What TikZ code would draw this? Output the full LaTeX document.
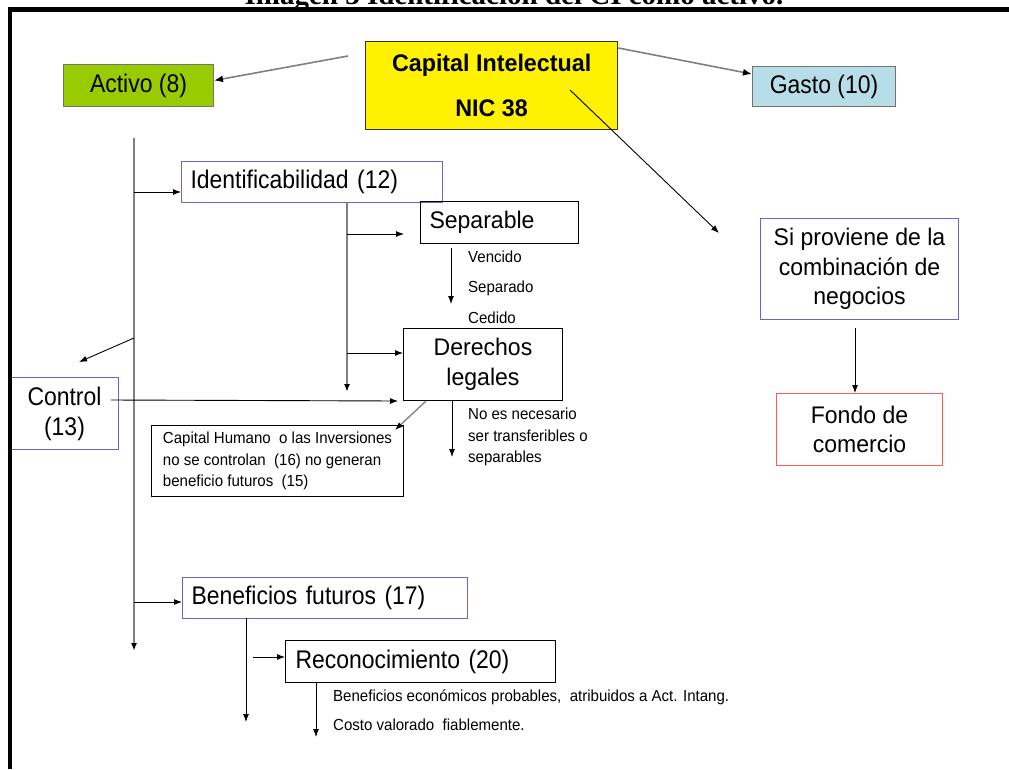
\documentclass[tikz,border=0pt]{standalone}
\usepackage{fontspec}
\setmainfont{Liberation Sans}
\newfontfamily\titlefont{Liberation Serif}
\newfontfamily\condfont[FakeStretch=0.9]{Liberation Sans}
\newfontfamily\plainfont[FakeStretch=0.96]{Liberation Sans}
\newfontfamily\notefont[FakeStretch=0.94]{Liberation Sans}
\newfontfamily\headfont[FakeStretch=0.97]{Liberation Sans}
\usetikzlibrary{arrows.meta,calc}

\newcommand\bigcond{\condfont\fontsize{25.5}{30}\selectfont}
\newcommand\bigplain{\plainfont\fontsize{24}{29.5}\selectfont}
\newcommand\smallnote{\notefont\fontsize{16}{21.5}\selectfont}

\definecolor{boxblue}{RGB}{102,102,204}
\definecolor{boxred}{RGB}{255,90,90}
\definecolor{activogreen}{RGB}{153,204,0}
\definecolor{gastoblue}{RGB}{183,222,232}
\definecolor{linegray}{RGB}{128,128,128}

\tikzset{
  box/.style={draw, line width=1pt, inner sep=0pt, anchor=north west},
  leftbox/.style={box, align=left, inner xsep=9pt},
  arr/.style={draw=black, line width=0.9pt, -{Latex[length=8pt,width=6pt]}},
  garr/.style={draw=linegray, line width=1.6pt, -{Latex[length=9pt,width=7pt,color=black]}},
  trunk/.style={draw=linegray, line width=1.8pt, -{Latex[length=8pt,width=6pt,color=black]}},
  note/.style={font=\smallnote, inner sep=0pt, anchor=base west},
}

\begin{document}
\begin{tikzpicture}[x=1pt,y=-1pt]
\useasboundingbox[fill=white] (0,0) rectangle (1009,769);

% caption, mostly cut by the page top
\node[font=\titlefont\bfseries\fontsize{29}{34}\selectfont, anchor=base, inner sep=0pt] (title) at (514,4.5)
  {Imagen 3 Identificación del CI como activo.};

% top row
\node[box, fill=yellow, draw=black!80, line width=1.3pt, minimum width=252pt, minimum height=88pt,
      align=center, font=\headfont\bfseries\fontsize{24}{45}\selectfont] (ci) at (365,41)
  {Capital Intelectual\\NIC 38};
\node[box, fill=activogreen, draw=black!55, minimum width=150pt, minimum height=42pt, font=\bigcond] (activo) at (63,64) {Activo (8)};
\node[box, fill=gastoblue, draw=black!55, minimum width=143pt, minimum height=40pt, font=\bigcond] (gasto) at (752,66) {Gasto (10)};

% right column
\node[box, draw=boxblue, minimum width=198pt, minimum height=101pt, align=center, font=\bigplain] (sip) at (760,218)
  {Si proviene de la\\combinación de\\negocios};
\node[box, draw=boxred, minimum width=166pt, minimum height=72pt, align=center, font=\bigplain] (fondo) at (776,393)
  {Fondo de\\comercio};

% left branch boxes
\node[leftbox, draw=boxblue, text width=243pt, minimum height=41pt, font=\bigcond] (ident) at (181,161) {Identificabilidad (12)};
\node[leftbox, text width=140pt, minimum height=42pt, font=\bigplain] (sep) at (420,201) {Separable};
\node[box, minimum width=159pt, minimum height=72pt, align=center, font=\bigplain] (der) at (403,328) {Derechos\\legales};
\node[box, draw=boxblue, minimum width=108pt, minimum height=72pt, align=center, font=\bigcond] (ctl) at (10,377) {Control\\(13)};
\node[box, align=left, minimum width=252pt, minimum height=71pt, font=\smallnote] (ch) at (151,425)
  {Capital Humano~ o las Inversiones\\no se controlan~ (16) no generan\\beneficio futuros~ (15)};
\node[leftbox, draw=boxblue, text width=267pt, minimum height=41pt, font=\bigcond] (benef) at (182,577) {Beneficios futuros (17)};
\node[leftbox, inner xsep=10pt, text width=250pt, minimum height=42pt, font=\bigcond] (reco) at (285,640) {Reconocimiento (20)};

% small notes
\node[note] (venc) at (468,262) {Vencido};
\node[note] (sepd) at (468,292) {Separado};
\node[note] (ced) at (468,323) {Cedido};
\node[font=\smallnote, inner sep=0pt, anchor=north west, align=left] (nonec) at (468,408)
  {No es necesario\\ser transferibles o\\separables};
\node[note] (benNote) at (333,701) {Beneficios económicos probables,~ atribuidos a Act. Intang.};
\node[note] (costNote) at (333,730) {Costo valorado~ fiablemente.};

% connectors from the central box
\coordinate (ciL) at (348,56);
\draw[garr] (ciL) -- ([yshift=5pt]activo.east);
\draw[garr] ([yshift=-7pt]ci.north east) -- ([yshift=-8pt]gasto.north west);
\coordinate (ciD) at (570,90);
\coordinate (mergeTip) at (719,233);
\draw[arr] (ciD) -- (mergeTip);
\coordinate (sipOut) at (855,328);
\draw[arr] (sipOut) -- (sipOut |- fondo.north);

% main trunk and its branches
\coordinate (trTop) at (134,138);
\coordinate (trBot) at (134,651);
\draw[trunk] (trTop) -- (trBot);
\coordinate (brIdent) at (134,192);
\draw[arr] (brIdent) -- (brIdent -| ident.west);
\coordinate (brCtl) at (134,338);
\coordinate (ctlTip) at (79,362);
\draw[arr] (brCtl) -- (ctlTip);
\coordinate (brBen) at (134,602);
\draw[arr] (brBen) -- (brBen -| benef.west);

% identifiability sub-trunk
\coordinate (idTop) at (347,202);
\coordinate (idBot) at (347,392);
\draw[trunk] (idTop) -- (idBot);
\coordinate (brSep) at (347,234);
\draw[arr] (brSep) -- ($(brSep -| sep.west)+(-16,0)$);
\coordinate (brDer) at (347,353);
\draw[arr] (brDer) -- (brDer -| der.west);
\coordinate (sepDown) at (451,248);
\coordinate (sepDownEnd) at (451,304);
\draw[arr] (sepDown) -- (sepDownEnd);

% rights box connectors
\coordinate (ctlOut) at (111,400);
\draw[arr] (ctlOut) -- ($(der.south west)+(-5,0)$);
\draw[draw=linegray, line width=1.3pt, -{Latex[length=8pt,width=6pt,color=black]}]
  ([xshift=23pt]der.south west) -- ([xshift=-9pt,yshift=-5pt]ch.north east);
\coordinate (derDown) at (452,400);
\coordinate (derDownEnd) at (452,457);
\draw[arr] (derDown) -- (derDownEnd);

% future benefits
\coordinate (benDown) at (246,618);
\coordinate (benDownEnd) at (246,722);
\draw[arr] (benDown) -- (benDownEnd);
\coordinate (recoIn) at (253,657);
\draw[arr] (recoIn) -- (recoIn -| reco.west);
\coordinate (recoDown) at (316,682);
\coordinate (recoDownEnd) at (316,737);
\draw[arr] (recoDown) -- (recoDownEnd);

% page frame
\draw[line width=4.5pt, line join=miter] (9.8,769) -- (9.8,9.5) -- (1009,9.5);
\end{tikzpicture}
\end{document}
